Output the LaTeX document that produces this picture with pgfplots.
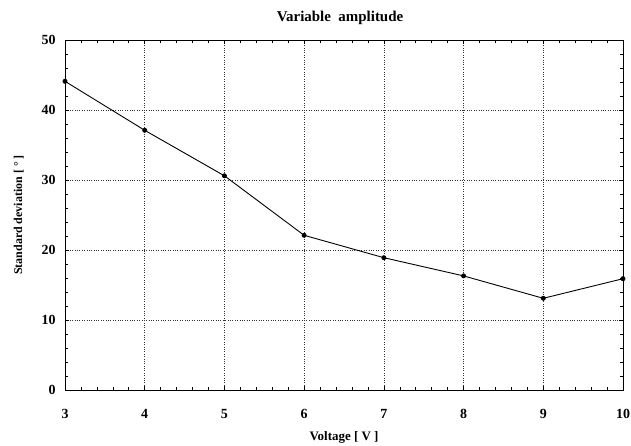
\documentclass[border=0pt]{standalone}
\usepackage{fontspec}
\setmainfont{Liberation Serif}
\usepackage{pgfplots}
\pgfplotsset{compat=1.18}
\begin{document}
\begin{tikzpicture}[x=1bp,y=1bp]
\useasboundingbox (-65bp,-56bp) rectangle (566bp,390bp);
\begin{axis}[
  at={(0,0)}, anchor=south west,
  scale only axis, width=558bp, height=350bp,
  xmin=3, xmax=10, ymin=0, ymax=50,
  xtick={3,4,...,10}, ytick={0,10,...,50},
  minor x tick num=4, minor y tick num=4,
  tick align=inside,
  major tick length=4bp, minor tick length=3bp,
  grid=major,
  major grid style={black!80, dotted, line width=0.7pt},
  axis line style={black, line width=0.9pt},
  tick style={black, line width=0.6pt},
  /pgf/number format/assume math mode=true,
  ticklabel style={font=\bfseries\fontsize{14}{14}\selectfont},
  xticklabel style={yshift=-16bp},
  yticklabel style={xshift=-6bp},
  title={\bfseries\fontsize{15}{15}\selectfont Variable\ \ amplitude},
  title style={yshift=6bp, xshift=-4bp},
  xlabel={\bfseries\fontsize{13}{13}\selectfont Voltage [ V ]},
  xlabel style={yshift=-6bp},
  ylabel={\bfseries\fontsize{12}{12}\selectfont Standard deviation [ ° ]},
  ylabel style={yshift=11bp},
]
\addplot[black, line width=0.9pt, mark=*, mark size=2pt] coordinates {
(3,44.1) (4,37.1) (5,30.6) (6,22.1) (7,18.9) (8,16.3) (9,13.1) (10,15.9)
};
\end{axis}
\end{tikzpicture}
\end{document}
